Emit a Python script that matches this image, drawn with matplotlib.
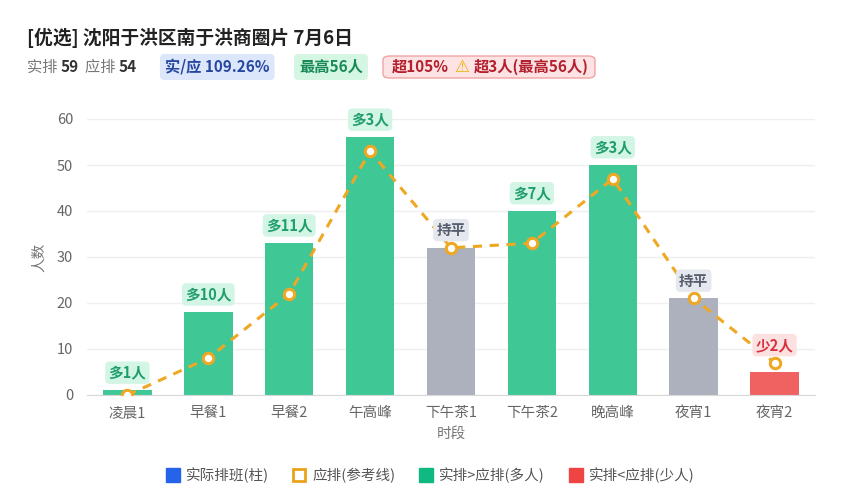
import matplotlib
matplotlib.use("Agg")
import matplotlib.pyplot as plt
from matplotlib.lines import Line2D
from matplotlib.patches import FancyBboxPatch

plt.rcParams['font.family'] = ['Noto Sans CJK SC', 'DejaVu Sans']

categories = ['凌晨1', '早餐1', '早餐2', '午高峰', '下午茶1', '下午茶2', '晚高峰', '夜宵1', '夜宵2']
actual = [1, 18, 33, 56, 32, 40, 50, 21, 5]
expected = [0, 8, 22, 53, 32, 33, 47, 21, 7]
title = '[优选] 沈阳于洪区南于洪商圈片 7月6日'
total_actual = 59
total_expected = 54
ratio_text = '实/应 109.26%'
max_text = '最高56人'
warn_text_a = '超105%'
warn_text_b = '超3人(最高56人)'
legend_labels = ['实际排班(柱)', '应排(参考线)', '实排>应排(多人)', '实排<应排(少人)']

GREEN = '#3fc896'
GRAY = '#adb1bd'
RED = '#f06262'
ORANGE = '#eea823'

fig = plt.figure(figsize=(8.46, 5.0), dpi=100)
W, H = 846, 500
ax = fig.add_axes([87 / W, 1 - 395 / H, (815 - 87) / W, (395 - 119) / H])

x = list(range(len(categories)))
colors = []
labels = []
for a, e in zip(actual, expected):
    d = a - e
    if d > 0:
        colors.append(GREEN); labels.append((f'多{d}人', '#1f9e6c', '#d3f5e5'))
    elif d < 0:
        colors.append(RED); labels.append((f'少{-d}人', '#d63040', '#fde1e1'))
    else:
        colors.append(GRAY); labels.append(('持平', '#555c6b', '#e6e8ef'))

ax.bar(x, actual, width=0.6, color=colors, zorder=2)
ax.plot(x, expected, color=ORANGE, lw=2.2, ls=(0, (3, 2.5)), zorder=3,
        marker='o', ms=7.5, mfc='white', mec=ORANGE, mew=2.2)

for xi, a, e, (t, tc, bg) in zip(x, actual, expected, labels):
    ax.annotate(t, (xi, max(a, e)), xytext=(0, 7), textcoords='offset points',
                ha='center', va='bottom', fontsize=10.5, fontweight='bold', color=tc,
                bbox=dict(boxstyle='round,pad=0.22,rounding_size=0.3', fc=bg, ec='none'),
                zorder=5)

ax.set_xlim(-0.5, len(categories) - 0.5)
ax.set_ylim(0, 60)
ax.set_yticks(range(0, 61, 10))
ax.set_xticks(x)
ax.set_xticklabels(categories)
ax.tick_params(axis='both', length=0, labelsize=10.5, labelcolor='#666666')
ax.tick_params(axis='x', pad=8)
ax.tick_params(axis='y', pad=10)
ax.grid(axis='y', color='#efefef', lw=1, zorder=0)
for s in ['top', 'right', 'left']:
    ax.spines[s].set_visible(False)
ax.spines['bottom'].set_color('#d8d8d8')
ax.set_xlabel('时段', fontsize=10.5, color='#777777', labelpad=5)
ax.set_ylabel('人数', fontsize=10.5, color='#777777', labelpad=8)

handles = [
    Line2D([], [], ls='none', marker='s', ms=10, mfc='#2563eb', mec='#2563eb'),
    Line2D([], [], ls='none', marker='s', ms=9, mfc='white', mec='#e8a317', mew=2),
    Line2D([], [], ls='none', marker='s', ms=10, mfc='#10b981', mec='#10b981'),
    Line2D([], [], ls='none', marker='s', ms=10, mfc='#ef4444', mec='#ef4444'),
]
fig.legend(handles, legend_labels, loc='center', bbox_to_anchor=(430 / W, 1 - 475 / H),
           ncol=4, frameon=False, fontsize=10.5, labelcolor='#555555',
           handletextpad=0.4, columnspacing=1.6, handlelength=1.0)

# header
fig.text(27 / W, 1 - 38 / H, title, fontsize=13.5, fontweight='bold', color='#222222',
         va='center', ha='left')

renderer = fig.canvas.get_renderer()

def put(xpix, text, y=67, **kw):
    t = fig.text(xpix / W, 1 - y / H, text, va='center', ha='left', **kw)
    bb = t.get_window_extent(renderer)
    return t, bb.x1

px = 27
_, px = put(px, '实排 ', fontsize=11, color='#777777')
_, px = put(px, str(total_actual), fontsize=11, color='#333333', fontweight='bold')
_, px = put(px + 6, '应排 ', fontsize=11, color='#777777')
_, px = put(px, str(total_expected), fontsize=11, color='#333333', fontweight='bold')

_, px = put(165, ratio_text, fontsize=11, color='#2747a0', fontweight='bold',
            bbox=dict(boxstyle='round,pad=0.33,rounding_size=0.3', fc='#dce7fb', ec='none'))
_, px = put(299, max_text, fontsize=11, color='#198a58', fontweight='bold',
            bbox=dict(boxstyle='round,pad=0.33,rounding_size=0.3', fc='#d4f6e3', ec='none'))

box = FancyBboxPatch((383 / W, 1 - 78 / H), (595 - 383) / W, 22 / H,
                     boxstyle='round,pad=0,rounding_size=0.008', transform=fig.transFigure,
                     fc='#fde3e3', ec='#f0a4a4', lw=1)
fig.add_artist(box)
_, px = put(392, warn_text_a, fontsize=11, color='#b3202e', fontweight='bold')
_, px = put(px + 5, '⚠', fontsize=12, color='#e8b400', family=['DejaVu Sans'])
_, px = put(px + 5, warn_text_b, fontsize=11, color='#b3202e', fontweight='bold')

fig.savefig('out.png', dpi=100, facecolor='white')
